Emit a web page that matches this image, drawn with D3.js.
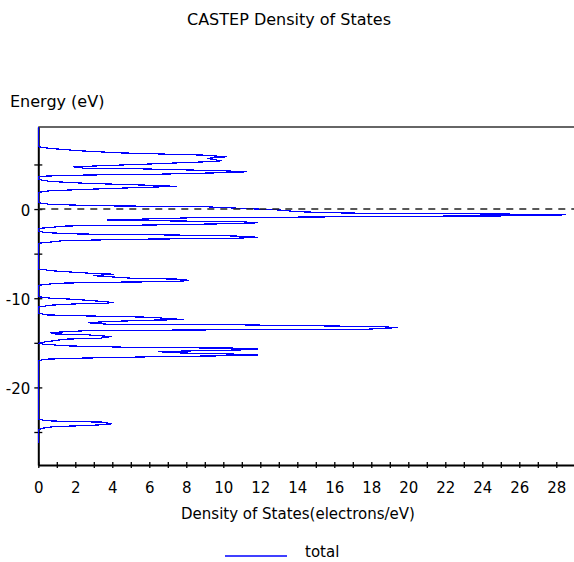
<!DOCTYPE html>
<html>
<head>
<meta charset="utf-8">
<script src="https://cdn.jsdelivr.net/npm/d3@7"></script>
<style>
  body { margin: 0; background: #fff; }
  svg { display: block; font-family: "DejaVu Sans", Verdana, sans-serif; }
</style>
</head>
<body>
<div id="chart"></div>
<script>
// energy (eV) and total DOS (electrons/eV) top to bottom
let energy = [
    9.5, 6.98, 6.80, 6.53, 6.30, 6.16, 6.05, 5.86, 5.68, 5.41, 5.30, 5.04, 4.74,
    4.59, 4.51, 4.29, 4.18, 4.11, 3.92, 3.81, 3.70, 3.62, 3.32, 3.10, 2.88, 2.69,
    2.54, 2.43, 2.21, 2.05, 1.87,
    0.71, 0.53, 0.37, 0.26, -0.11, -0.30, -0.45, -0.56, -0.62, -0.75, -0.80,
    -0.92, -0.98, -1.09, -1.23, -1.31, -1.42, -1.53, -1.61, -1.79, -1.90, -2.16,
    -2.27, -2.50, -2.65, -2.80, -2.91, -3.02, -3.17, -3.28, -3.39, -3.55, -3.84,
    -6.72, -6.94, -7.20, -7.31, -7.47, -7.76, -7.87, -8.03, -8.14, -8.21, -8.32, -8.55,
    -9.82, -10.0, -10.11, -10.38, -10.49, -10.56, -10.64, -10.78, -11.0,
    -11.68, -11.87, -11.98, -12.13, -12.40, -12.46, -12.62, -12.75, -12.91, -12.99,
    -13.18, -13.29, -13.47, -13.55, -13.63, -13.85, -14.0, -14.11, -14.30, -14.48,
    -14.59, -14.93, -15.05, -15.15, -15.34, -15.53, -15.60, -15.71, -15.79, -15.98,
    -16.09, -16.14, -16.27, -16.35, -16.42, -16.54, -16.72, -16.83, -16.99,
    -23.55, -23.74, -23.82, -23.89, -24.08, -24.19, -24.30, -24.38, -24.56, -24.75,
    -26.2
];
let dos = [
    0, 0, 0.63, 2.25, 4.4, 6.85, 8.9, 10.2, 9.1, 9.9, 9.1, 5.86, 1.9,
    2.43, 5.5, 10.0, 11.26, 10.7, 6.76, 2.5, 0.45, 0, 0, 0.63, 2.6, 5.7,
    7.48, 5.7, 2.6, 0.63, 0,
    0, 0.63, 3.16, 9.0, 13.06, 13.97, 16.7, 25.05, 28.5, 27.8, 20.7,
    13.0, 8.3, 6.3, 3.7, 6.3, 10.9, 11.9, 11.26, 6.04, 1.53, 0.1,
    0, 0, 0.45, 2.25, 7.3, 10.6, 11.9, 10.6, 4.96, 1.35, 0,
    0, 0.86, 2.8, 4.07, 2.97, 5.08, 7.82, 8.13, 7.09, 3.6, 1.04, 0,
    0, 0.68, 1.87, 3.6, 4.07, 3.6, 1.96, 0.68, 0,
    0, 0.45, 2.52, 6.04, 7.88, 6.04, 3.7, 2.7, 3.7, 11.08,
    18.4, 19.46, 17.84, 9.19, 2.7, 0.63, 0.9, 2.7, 3.97, 3.34,
    1.44, 0.27, 0, 0.27, 1.53, 5.5, 11.08, 11.9, 11.08, 6.49,
    7.12, 7.8, 10.72, 11.9, 11.5, 6.76, 2.25, 0.45, 0,
    0, 0.45, 1.62, 3.43, 3.97, 3.43, 2.35, 0.9, 0.27, 0,
    0
];
let xTicks = d3.range(0, 30);
let yTicks = [5, 0, -5, -10, -15, -20, -25];
let seriesName = "total";

const width = 574, height = 562;
const plot = { left: 38.3, right: 593.3, top: 127, bottom: 465 };

const svg = d3.select("#chart").append("svg")
    .attr("width", width)
    .attr("height", height);

const xScale = d3.scaleLinear().domain([0, 30]).range([plot.left, plot.right]);
const yScale = d3.scaleLinear().domain([-28.7, 9.2]).range([plot.bottom, plot.top]);

svg.append("text")
    .attr("x", 289).attr("y", 25)
    .attr("text-anchor", "middle")
    .attr("font-size", 16)
    .text("CASTEP Density of States");

svg.append("text")
    .attr("x", 10).attr("y", 107)
    .attr("font-size", 16)
    .text("Energy (eV)");

// frame top
svg.append("line")
    .attr("x1", plot.left).attr("x2", plot.right)
    .attr("y1", plot.top).attr("y2", plot.top)
    .attr("stroke", "#666").attr("stroke-width", 2);

const xAxis = svg.append("g")
    .attr("transform", `translate(0, ${plot.bottom})`)
    .call(d3.axisBottom(xScale).tickValues(xTicks).tickSizeOuter(0)
        .tickFormat(d => d % 2 === 0 ? String(d) : ""));
xAxis.select(".domain").attr("stroke", "#000").attr("stroke-width", 2);
xAxis.selectAll(".tick line").attr("y1", -3).attr("y2", 3).attr("stroke", "#000").attr("stroke-width", 1.3);
xAxis.selectAll(".tick text").attr("y", 14).attr("dy", "0.9em")
    .attr("font-size", 15).attr("font-family", "DejaVu Sans").attr("fill", "#000");

const yAxis = svg.append("g")
    .attr("transform", `translate(${plot.left}, 0)`)
    .call(d3.axisLeft(yScale).tickValues(yTicks).tickSizeOuter(0)
        .tickFormat(d => d % 10 === 0 ? String(d) : ""));
yAxis.select(".domain").attr("stroke", "#000").attr("stroke-width", 2);
yAxis.selectAll(".tick line").attr("x1", -4).attr("x2", 4).attr("stroke", "#000").attr("stroke-width", 1.3);
yAxis.selectAll(".tick text").attr("x", -8).attr("dy", "0.4em")
    .attr("font-size", 15).attr("font-family", "DejaVu Sans").attr("fill", "#000");

svg.append("text")
    .attr("x", 298).attr("y", 519)
    .attr("text-anchor", "middle")
    .attr("font-size", 15)
    .text("Density of States(electrons/eV)");

svg.append("clipPath").attr("id", "clip")
    .append("rect")
    .attr("x", plot.left - 2).attr("y", plot.top)
    .attr("width", plot.right - plot.left + 2).attr("height", plot.bottom - plot.top);

const points = energy.map((e, i) => ({ e: e, d: dos[i] }));
const line = d3.line().x(p => xScale(p.d)).y(p => yScale(p.e));

svg.append("path")
    .datum(points)
    .attr("clip-path", "url(#clip)")
    .attr("d", line)
    .attr("fill", "none")
    .attr("stroke", "#0000ff")
    .attr("stroke-width", 1.2)
    .attr("shape-rendering", "crispEdges");

// Fermi level
svg.append("line")
    .attr("x1", plot.left).attr("x2", plot.right)
    .attr("y1", yScale(0)).attr("y2", yScale(0))
    .attr("stroke", "#222").attr("stroke-width", 1.5)
    .attr("stroke-dasharray", "7,6");

// legend
svg.append("line")
    .attr("x1", 225).attr("x2", 287)
    .attr("y1", 556).attr("y2", 556)
    .attr("stroke", "#0000ff").attr("stroke-width", 1.3);
svg.append("text")
    .attr("x", 305).attr("y", 557)
    .attr("font-size", 15)
    .text(seriesName);
</script>
</body>
</html>
